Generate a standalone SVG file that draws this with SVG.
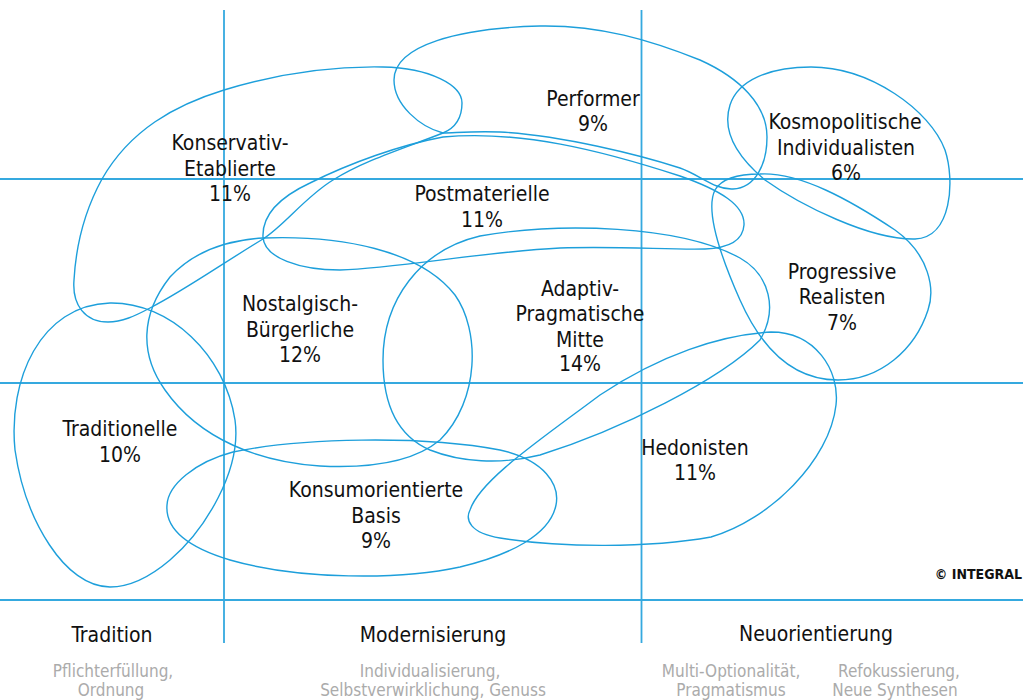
<svg xmlns="http://www.w3.org/2000/svg" width="1023" height="700" viewBox="0 0 1023 700">
<style>
.grid{stroke:#35a9df;stroke-width:1.8;fill:none}
.m{fill:none;stroke:#1d9fdb;stroke-width:1.4}
.lbl{font-family:'DejaVu Sans Condensed','DejaVu Sans',sans-serif;font-stretch:condensed;font-size:21px;fill:#111;text-anchor:middle}
.sub{font-family:'DejaVu Sans Condensed','DejaVu Sans',sans-serif;font-stretch:condensed;font-size:17px;fill:#ababab;text-anchor:middle}
.copy{font-family:'DejaVu Sans Condensed','DejaVu Sans',sans-serif;font-stretch:condensed;font-size:14px;font-weight:bold;fill:#111;text-anchor:end}
</style>
<rect width="1023" height="700" fill="#fff"/>
<g id="grid">
<line class="grid" x1="224" y1="10" x2="224" y2="643"/>
<line class="grid" x1="641.5" y1="10" x2="641.5" y2="643"/>
<line class="grid" x1="0" y1="179" x2="1023" y2="179"/>
<line class="grid" x1="0" y1="383" x2="1023" y2="383"/>
<line class="grid" x1="0" y1="600" x2="1023" y2="600"/>
</g>
<g id="connectors"></g>
<g id="konservativ-etablierte">
<path class="m" d="M108,322 C85,322 72,305 74,280 C76,245 85,210 102,179 C130,130 175,105 224,90 C280,73 330,66 383,67 C430,68 462,85 462,103 C462,118 455,128 443,133 C405,148 365,160 333,180 C305,197 285,225 263,239 C220,265 185,290 150,308 C135,316 122,322 108,322 Z"/>
<text class="lbl"><tspan x="230" y="150">Konservativ-</tspan><tspan x="230" y="176">Etablierte</tspan><tspan x="230" y="201">11%</tspan></text>
</g>
<g id="performer">
<path class="m" d="M394,80 C394,45 460,28 540,26 C600,25 650,40 700,60 C740,78 767,105 767,137 C767,165 755,188 733,189 C715,190 700,175 680,168 C640,155 560,135 500,132 C470,131 455,133 443,133 C420,127 394,105 394,80 Z"/>
<text class="lbl"><tspan x="593" y="106">Performer</tspan><tspan x="593" y="131">9%</tspan></text>
</g>
<g id="postmaterielle">
<path class="m" d="M263,237 C262,215 280,197 310,183 C350,163 400,145 443,137 C520,130 600,150 680,176 C720,190 745,205 744,225 C743,240 730,248 705,249 C670,250 620,246 560,248 C480,252 400,268 340,270 C300,270 264,258 263,237 Z"/>
<text class="lbl"><tspan x="482" y="201">Postmaterielle</tspan><tspan x="482" y="227">11%</tspan></text>
</g>
<g id="kosmopolitische-individualisten">
<path class="m" d="M811,67 C870,67 930,110 945,150 C955,180 952,238 915,239 C870,240 800,205 765,180 C735,155 722,130 730,105 C738,80 770,67 811,67 Z"/>
<text class="lbl"><tspan x="845" y="129">Kosmopolitische</tspan><tspan x="846" y="155">Individualisten</tspan><tspan x="846" y="180">6%</tspan></text>
</g>
<g id="progressive-realisten">
<path class="m" d="M760,174 C800,172 850,200 895,230 C930,255 935,290 928,310 C915,350 880,380 838,380 C790,380 760,345 740,300 C720,255 705,210 715,190 C722,178 740,174 760,174 Z"/>
<text class="lbl"><tspan x="842" y="279">Progressive</tspan><tspan x="842" y="304">Realisten</tspan><tspan x="842" y="330">7%</tspan></text>
</g>
<g id="nostalgisch-buergerliche">
<path class="m" d="M263,238 C340,235 420,250 455,295 C480,330 480,400 440,440 C410,465 360,468 320,466 C260,462 200,440 165,390 C140,355 140,315 170,277 C195,250 230,240 263,238 Z"/>
<text class="lbl"><tspan x="300" y="311">Nostalgisch-</tspan><tspan x="300" y="337">Bürgerliche</tspan><tspan x="300" y="362">12%</tspan></text>
</g>
<g id="adaptiv-pragmatische-mitte">
<path class="m" d="M383,360 C383,300 420,250 480,236 C560,222 680,225 740,258 C770,275 778,310 760,340 C720,380 620,430 540,455 C500,465 460,462 430,450 C395,435 383,400 383,360 Z"/>
<text class="lbl"><tspan x="580" y="296">Adaptiv-</tspan><tspan x="580" y="321">Pragmatische</tspan><tspan x="580" y="347">Mitte</tspan><tspan x="580" y="371">14%</tspan></text>
</g>
<g id="traditionelle">
<path class="m" d="M110,303 C170,302 225,355 235,420 C242,470 205,530 170,560 C150,577 130,587 110,587 C65,587 25,520 15,450 C8,380 40,305 110,303 Z"/>
<text class="lbl"><tspan x="120" y="436">Traditionelle</tspan><tspan x="120" y="462">10%</tspan></text>
</g>
<g id="konsumorientierte-basis">
<path class="m" d="M233,452 C300,438 420,435 500,450 C545,460 560,485 556,505 C550,535 510,555 460,567 C400,580 300,580 230,560 C190,548 165,530 167,505 C168,485 195,462 233,452 Z"/>
<text class="lbl"><tspan x="376" y="497">Konsumorientierte</tspan><tspan x="376" y="523">Basis</tspan><tspan x="376" y="548">9%</tspan></text>
</g>
<g id="hedonisten">
<path class="m" d="M470,510 C480,480 540,440 600,395 C660,355 720,335 771,332 C815,332 840,370 836,405 C830,460 770,520 711,537 C650,548 560,548 500,538 C470,533 465,520 470,510 Z"/>
<text class="lbl"><tspan x="695" y="455">Hedonisten</tspan><tspan x="695" y="480">11%</tspan></text>
</g>
<g id="axis-labels">
<text class="lbl" x="112" y="642">Tradition</text>
<text class="lbl" x="433" y="642">Modernisierung</text>
<text class="lbl" x="816" y="641">Neuorientierung</text>
<text class="sub"><tspan x="113" y="677">Pflichterfüllung,</tspan><tspan x="111" y="696">Ordnung</tspan></text>
<text class="sub"><tspan x="430" y="677">Individualisierung,</tspan><tspan x="433" y="696">Selbstverwirklichung, Genuss</tspan></text>
<text class="sub"><tspan x="731" y="677">Multi-Optionalität,</tspan><tspan x="731" y="696">Pragmatismus</tspan></text>
<text class="sub"><tspan x="899" y="677">Refokussierung,</tspan><tspan x="895" y="696">Neue Synthesen</tspan></text>
</g>
<g id="copyright">
<text class="copy" x="1022" y="579">© INTEGRAL</text>
</g>
</svg>
